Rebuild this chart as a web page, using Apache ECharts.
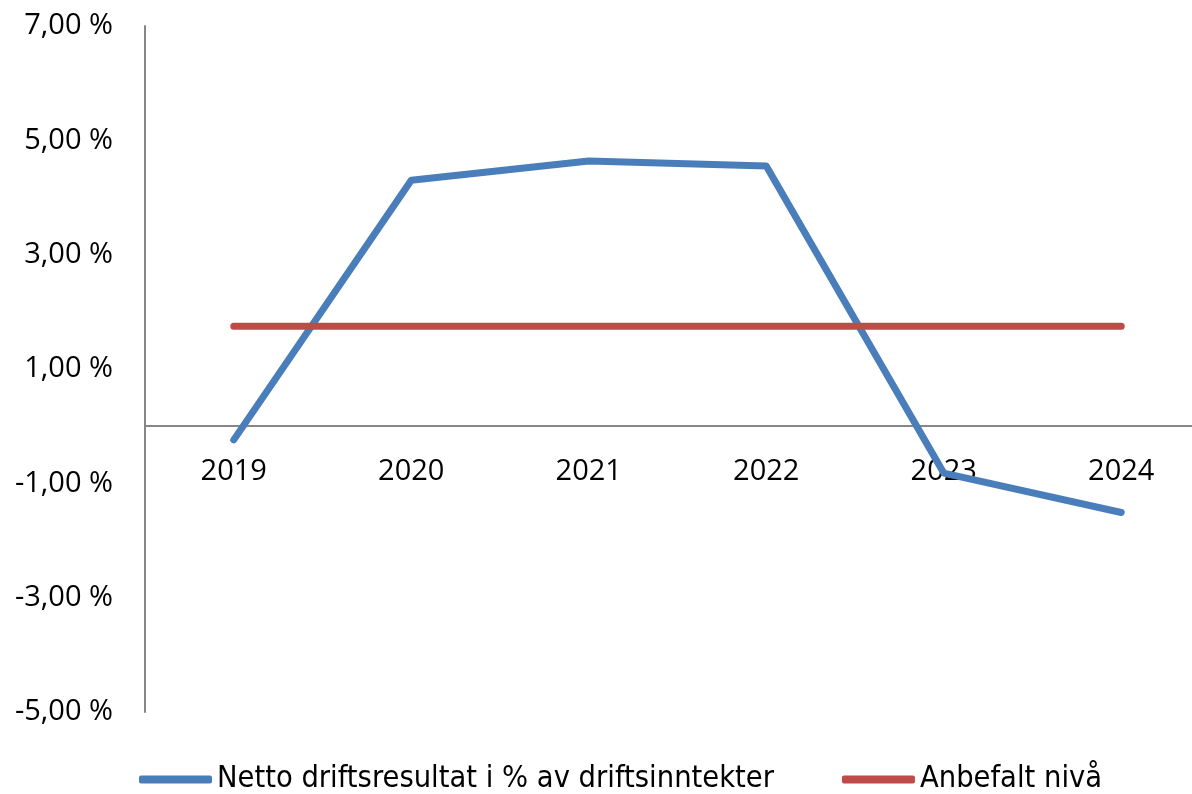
<!DOCTYPE html>
<html>
<head>
<meta charset="utf-8">
<script src="https://cdn.jsdelivr.net/npm/echarts@6/dist/echarts.min.js"></script>
<style>
  html, body { margin: 0; padding: 0; background: #fff; overflow: hidden; }
  /* plottet går litt ut over høyre kant i originalen */
  #chart { width: 1210px; height: 794px; }
</style>
</head>
<body>
<div id="chart"></div>
<script>
// kategorier og verdier (lest av bildet)
const years = ['2019', '2020', '2021', '2022', '2023', '2024'];
const nettoDrift = [-0.24, 4.30, 4.64, 4.55, -0.82, -1.51];
const anbefalt = [1.75, 1.75, 1.75, 1.75, 1.75, 1.75];
const seriesNames = ['Netto driftsresultat i % av driftsinntekter', 'Anbefalt nivå'];

const chart = echarts.init(document.getElementById('chart'));
chart.setOption({
  animation: false,
  grid: {
    left: 145,
    top: 26,
    right: 0,
    height: 686,
  },
  legend: {
    left: 139,
    top: 764,
    padding: 0,
    icon: 'roundRect',
    itemWidth: 73,
    itemHeight: 8,
    itemGap: 68,
    textStyle: {
      fontFamily: 'DejaVu Sans Condensed',
      fontSize: 30.5,
      color: '#000',
    },
    data: seriesNames,
  },
  xAxis: {
    type: 'category',
    data: years,
    offset: -286, // aksen ligger på 0-linjen, med etikettene under
    axisLine: { onZero: false, lineStyle: { color: '#868686', width: 2 } },
    axisTick: { show: false },
    axisLabel: {
      margin: 31,
      fontFamily: 'Open Sans',
      fontSize: 29,
      color: '#000',
    },
  },
  yAxis: {
    type: 'value',
    min: -5,
    max: 7,
    interval: 2,
    splitLine: { show: false },
    axisTick: { show: false },
    axisLine: { show: true, lineStyle: { color: '#868686', width: 2 } },
    axisLabel: {
      margin: 32,
      fontFamily: 'Open Sans',
      fontSize: 29,
      color: '#000',
      formatter: v => v.toFixed(2).replace('.', ',') + ' %',
    },
  },
  series: [
    {
      name: seriesNames[0],
      type: 'line',
      data: nettoDrift,
      symbol: 'none',
      color: '#4a7ebb',
      lineStyle: { width: 7, cap: 'round', join: 'round' },
    },
    {
      name: seriesNames[1],
      type: 'line',
      data: anbefalt,
      symbol: 'none',
      color: '#be4b48',
      lineStyle: { width: 7, cap: 'round' },
    },
  ],
});
</script>
</body>
</html>
